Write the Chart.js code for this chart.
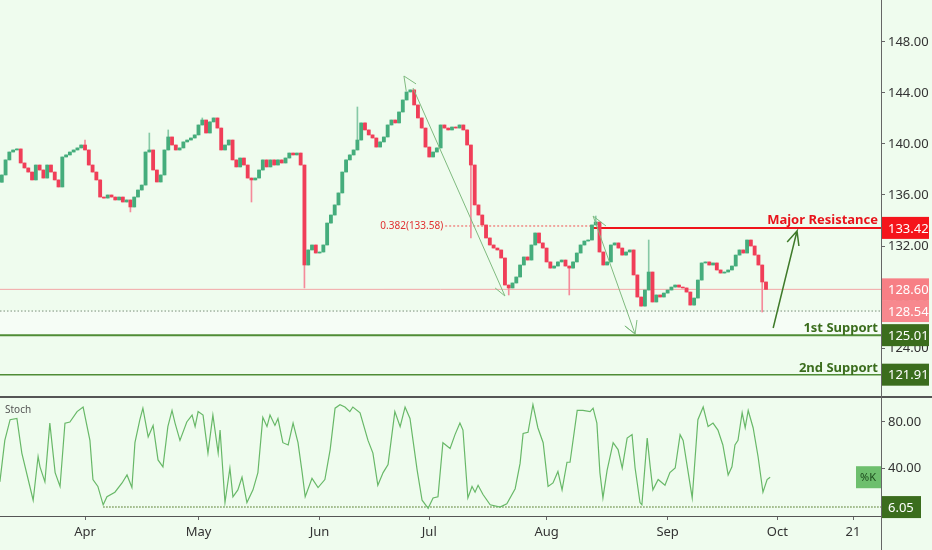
<!DOCTYPE html>
<html>
<head>
<meta charset="utf-8">
<script src="https://cdn.jsdelivr.net/npm/chart.js@4.4.0/dist/chart.umd.min.js"></script>
<style>
  body { margin: 0; background: #effcee; width: 932px; height: 550px; overflow: hidden; position: relative; }
  #main { position: absolute; left: 0; top: 0; }
  #stoch { position: absolute; left: 0; top: 397px; }
  .sep { position: absolute; left: 0; top: 396px; width: 932px; height: 2px; background: #555; }
  .vax { position: absolute; left: 881px; top: 0; width: 1px; height: 550px; background: #666; }
</style>
</head>
<body>
<canvas id="main" width="932" height="397"></canvas>
<canvas id="stoch" width="932" height="153"></canvas>
<div class="sep"></div>
<div class="vax"></div>
<script>
// --- data ---
// x axis is "day number" counted from 1 March (Apr 1 = 31)
const monthTickDays = [31, 61, 93, 122, 153, 185, 214, 234];
const monthTickLabels = ['Apr', 'May', 'Jun', 'Jul', 'Aug', 'Sep', 'Oct', '21'];
const priceTicks = [124, 128, 132, 136, 140, 144, 148];
const stochTicks = [40, 80];

// one candle per day, from day 9 to day 211
const firstDay = 9;
const firstOpen = 137.0;
const closes = [
  137.57, 138.75, 139.37, 139.53, 139.61, 138.51, 138.12, 137.80, 137.18, 138.35,
  137.96, 137.33, 138.35, 137.80, 137.18, 136.63, 138.98, 139.14, 139.37, 139.53,
  139.69, 139.92, 139.53, 138.35, 137.80, 137.18, 135.84, 135.76, 136.00, 135.84,
  135.61, 135.84, 135.45, 135.61, 135.06, 135.84, 136.39, 136.78, 139.37, 139.53,
  137.96, 137.02, 137.57, 139.53, 140.55, 139.92, 139.53, 139.69, 140.16, 140.31,
  140.47, 140.71, 141.49, 141.88, 140.86, 141.73, 142.04, 141.25, 139.53, 139.92,
  140.31, 138.75, 138.20, 138.90, 138.35, 137.33, 137.18, 137.33, 137.96, 138.75,
  138.20, 138.75, 138.35, 138.75, 138.51, 138.90, 139.29, 139.14, 139.29, 138.35,
  130.51, 131.69, 132.08, 131.45, 131.53, 132.08, 133.80, 134.43, 135.22, 136.16,
  137.80, 138.75, 139.14, 139.53, 140.31, 141.65, 141.10, 140.71, 140.47, 139.76,
  140.16, 140.55, 141.49, 141.88, 141.65, 142.51, 143.45, 144.08, 144.24, 143.06,
  142.04, 141.25, 139.76, 138.98, 139.37, 139.69, 141.49, 141.25, 141.10, 141.33,
  141.25, 141.49, 141.10, 139.92, 138.35, 135.22, 134.43, 133.65, 132.63, 132.08,
  131.84, 131.69, 131.06, 128.94, 128.71, 129.10, 129.57, 130.51, 131.14, 130.90,
  132.08, 133.02, 132.24, 131.84, 130.75, 130.27, 130.43, 130.75, 130.90, 130.43,
  130.27, 130.75, 131.45, 132.08, 132.39, 132.47, 133.65, 133.88, 131.53, 130.51,
  130.75, 132.08, 132.24, 131.84, 131.29, 131.53, 131.69, 129.73, 128.00, 127.29,
  128.55, 129.96, 127.61, 128.16, 128.00, 128.31, 128.55, 128.78, 128.94, 128.78,
  128.71, 128.39, 127.37, 127.92, 129.33, 130.67, 130.75, 130.51, 130.67, 130.12,
  129.88, 129.96, 130.12, 130.43, 131.29, 131.69, 131.45, 132.47, 132.00, 131.29,
  130.51, 129.18, 128.60
];
// long wicks that stick out of the bodies
const spikeDays  = [31, 43, 48, 53, 62, 75, 89, 103, 133, 143, 159, 166, 180, 210];
const spikeLows  = [null, 134.67, null, null, null, 135.45, 128.71, null, 132.63, 128.16, 128.16, null, null, 126.82];
const spikeHighs = [140.31, null, 140.86, 141.10, 142.04, null, null, 142.90, null, null, null, 134.35, 132.47, null];

// levels
const majorResistance = 133.42;
const fibLevel = 133.57;
const fibStartDay = 126.2;
const resistStartDay = 165.3;
const lastPrice = 128.60;
const markLevel = 126.90;
const support1 = 125.01;
const support2 = 121.91;

// drawn arrows, [day, price]; null breaks the stroke
const arrowDown1 = [[118.5, 144.71], [115.3, 145.33], [115.9, 144.16], [116.5, null], [117.7, 144.39], [142.0, 128.08], [139.4, 128.71]];
const arrowDown2 = [[168.7, 133.57], [165.3, 134.35], [176.4, 125.10], [173.7, 125.73], [176.4, 125.10], [176.9, 126.20]];
const arrowUp = [[212.9, 125.57], [219.2, 133.18], [216.6, 132.31], [219.2, 133.18], [219.7, 132.00]];

// stochastic %K
const stochDays = [
  8.5, 9.8, 11.2, 13.0, 14.3, 17.3, 18.6, 19.1, 20.4, 21.7,
  23.1, 24.4, 25.7, 27.0, 28.9, 30.5, 32.3, 33.1, 34.4, 35.8,
  36.8, 38.9, 40.8, 42.1, 43.4, 44.2, 45.5, 46.3, 47.7, 49.0,
  50.3, 51.6, 52.9, 54.0, 54.8, 56.1, 57.9, 59.3, 60.1, 60.9,
  62.2, 63.5, 64.8, 66.2, 66.7, 68.0, 69.3, 70.1, 71.4, 72.5,
  73.8, 75.4, 76.7, 78.0, 79.1, 79.9, 81.2, 82.0, 83.3, 84.7,
  86.0, 87.3, 88.4, 89.2, 91.0, 92.6, 94.4, 95.8, 97.1, 98.4,
  99.7, 101.0, 101.8, 103.7, 105.8, 107.1, 108.4, 109.8, 111.1, 112.9,
  114.3, 115.6, 116.9, 118.8, 120.1, 121.7, 123.0, 124.3, 125.6, 127.5,
  128.8, 130.1, 130.9, 132.2, 133.3, 134.1, 134.9, 136.2, 138.1, 140.7,
  142.5, 144.7, 146.0, 146.8, 148.1, 149.4, 150.7, 152.1, 153.4, 154.7,
  156.0, 157.1, 158.4, 159.2, 161.1, 162.6, 164.5, 165.3, 166.3, 167.1,
  167.9, 169.0, 170.6, 171.9, 173.0, 174.3, 175.6, 176.4, 177.7, 178.2,
  179.6, 180.4, 181.1, 182.5, 184.3, 185.6, 187.0, 188.3, 189.1, 191.5,
  193.0, 194.4, 195.7, 197.0, 198.3, 199.6, 201.0, 202.0, 202.8, 203.6,
  204.7, 205.5, 206.3, 207.6, 208.9, 210.2, 211.3, 212.1
];
const stochK = [
  28, 64, 82, 83, 53, 12, 50, 41, 28, 79,
  36, 24, 79, 80, 89, 93, 64, 30, 24, 8,
  15, 19, 27, 34, 23, 62, 82, 92, 67, 77,
  47, 41, 76, 90, 79, 64, 80, 86, 76, 89,
  86, 53, 86, 53, 73, 10, 40, 15, 21, 32,
  10, 21, 36, 84, 76, 86, 77, 83, 62, 60,
  79, 62, 36, 15, 31, 23, 30, 56, 92, 95,
  93, 89, 93, 88, 64, 53, 25, 36, 43, 89,
  76, 93, 83, 38, 12, 5, 14, 15, 62, 57,
  69, 79, 73, 14, 24, 19, 25, 17, 8, 6,
  9, 22, 44, 70, 71, 95, 75, 62, 24, 27,
  37, 21, 45, 45, 90, 90, 89, 92, 79, 36,
  14, 38, 62, 56, 40, 66, 69, 40, 10, 8,
  66, 41, 21, 30, 25, 36, 40, 69, 64, 14,
  82, 93, 76, 79, 73, 60, 34, 41, 60, 64,
  88, 75, 90, 75, 50, 19, 30, 32
];
const stochLow = 6.05;
const stochLowStart = 35.8;
const stochLast = 32;

// --- view ---
const X_MIN = 8.53, X_MAX = 241.4;
const UP = '#45ad7c', DOWN = '#f03e58';
const UP_WICK = '#86c9a6', DOWN_WICK = '#f58a9a';
const GREEN_TAG = '#3b6d1d';
const FONT = "'Noto Sans', sans-serif";

Chart.defaults.font.family = FONT;
Chart.defaults.color = '#333';

const bodies = [], wicks = [], bodyColors = [], wickColors = [];
closes.forEach((c, i) => {
  const day = firstDay + i;
  const o = i === 0 ? firstOpen : closes[i - 1];
  let lo = Math.min(o, c), hi = Math.max(o, c);
  const k = spikeDays.indexOf(day);
  if (k >= 0) {
    if (spikeLows[k] !== null) lo = Math.min(lo, spikeLows[k]);
    if (spikeHighs[k] !== null) hi = Math.max(hi, spikeHighs[k]);
  }
  const up = c >= o;
  bodies.push({ x: day, y: [o, c] });
  wicks.push({ x: day, y: [lo, hi] });
  bodyColors.push(up ? UP : DOWN);
  wickColors.push(up ? UP_WICK : DOWN_WICK);
});

function line(points, color, width, dash, order, extra) {
  return Object.assign({
    type: 'line',
    data: points.map(p => ({ x: p[0], y: p[1] })),
    borderColor: color,
    borderWidth: width,
    borderDash: dash || [],
    pointRadius: 0,
    fill: false,
    tension: 0,
    spanGaps: false,
    order: order
  }, extra || {});
}

function fixAxisWidth(scale) {
  scale.width = 51;
  scale.paddingTop = 0;
  scale.paddingBottom = 0;
}

function tag(ctx, x, yc, w, text, bg, fg, size) {
  ctx.fillStyle = bg;
  ctx.fillRect(x, yc - 11, w, 22);
  ctx.fillStyle = fg;
  ctx.font = (size || 13) + 'px ' + FONT;
  ctx.textAlign = 'left';
  ctx.textBaseline = 'middle';
  ctx.fillText(text, x + 6, yc + 1);
}

const mainLabels = {
  id: 'mainLabels',
  afterDraw(chart) {
    const { ctx, chartArea, scales: { x, y } } = chart;
    ctx.save();
    ctx.textAlign = 'right';
    ctx.textBaseline = 'alphabetic';
    ctx.font = 'bold 13px ' + FONT;
    ctx.fillStyle = '#e8141b';
    ctx.fillText('Major Resistance', chartArea.right - 3, y.getPixelForValue(majorResistance) - 4);
    ctx.fillStyle = '#3b6d1d';
    ctx.fillText('1st Support', chartArea.right - 3, y.getPixelForValue(support1) - 3);
    ctx.fillText('2nd Support', chartArea.right - 3, y.getPixelForValue(support2) - 3);

    ctx.font = '10px ' + FONT;
    ctx.fillStyle = '#e03030';
    ctx.textBaseline = 'middle';
    ctx.fillText('0.382(133.58)', x.getPixelForValue(fibStartDay) - 2, y.getPixelForValue(fibLevel));

    const left = chartArea.right + 1;
    tag(ctx, left, y.getPixelForValue(majorResistance), 47, '133.42', '#f5141b', '#fff');
    tag(ctx, left, y.getPixelForValue(lastPrice), 47, '128.60', '#f77f85', '#fff');
    tag(ctx, left, y.getPixelForValue(markLevel), 47, '128.54', '#f7888e', '#fff');
    tag(ctx, left, y.getPixelForValue(support1), 47, '125.01', GREEN_TAG, '#fff');
    tag(ctx, left, y.getPixelForValue(support2), 47, '121.91', GREEN_TAG, '#fff');
    ctx.restore();
  }
};

new Chart(document.getElementById('main'), {
  type: 'bar',
  data: {
    datasets: [
      line(arrowDown1, '#7fba7f', 1, [], 0),
      line(arrowDown2, '#7fba7f', 1, [], 0),
      line(arrowUp, '#3f7a2a', 1.5, [], 0),
      { type: 'bar', data: bodies, backgroundColor: bodyColors, barThickness: 3.2, grouped: false, order: 1 },
      { type: 'bar', data: wicks, backgroundColor: wickColors, barThickness: 1, grouped: false, order: 2 },
      line([[fibStartDay, fibLevel], [resistStartDay, fibLevel]], '#f05050', 1, [2, 2], 3),
      line([[resistStartDay, majorResistance], [X_MAX, majorResistance]], '#f0141a', 2, [], 3),
      line([[X_MIN, lastPrice], [X_MAX, lastPrice]], '#f3a6a6', 1, [], 3),
      line([[X_MIN, markLevel], [X_MAX, markLevel]], '#7b8f7b', 1, [1.5, 2], 3),
      line([[X_MIN, support1], [X_MAX, support1]], '#4f8c36', 2, [], 3),
      line([[X_MIN, support2], [X_MAX, support2]], '#4f8c36', 1.5, [], 3),
      line([[X_MIN, markLevel], [X_MAX, markLevel]], 'rgba(0,0,0,0)', 0, [], 4,
        { fill: { value: support1 }, backgroundColor: 'rgba(255,255,255,0.45)' })
    ]
  },
  options: {
    responsive: false,
    animation: false,
    layout: { padding: 0 },
    plugins: { legend: { display: false }, tooltip: { enabled: false } },
    scales: {
      x: { type: 'linear', min: X_MIN, max: X_MAX, offset: false, display: false },
      y: {
        type: 'linear', position: 'right', min: 120.16, max: 151.29,
        afterBuildTicks: s => { s.ticks = priceTicks.map(v => ({ value: v })); },
        afterFit: fixAxisWidth,
        grid: { drawOnChartArea: false, tickLength: 4, color: '#666' },
        border: { display: true, color: '#666' },
        ticks: { padding: 3, font: { size: 13 }, color: '#333', callback: v => v.toFixed(2) }
      }
    }
  },
  plugins: [mainLabels]
});

const stochLabels = {
  id: 'stochLabels',
  afterDraw(chart) {
    const { ctx, chartArea, scales: { y } } = chart;
    ctx.save();
    ctx.font = '10px ' + FONT;
    ctx.fillStyle = '#555';
    ctx.textAlign = 'left';
    ctx.textBaseline = 'middle';
    ctx.fillText('Stoch', 5, 13);
    tag(ctx, chartArea.right + 1, y.getPixelForValue(stochLow), 39, '6.05', GREEN_TAG, '#fff');
    const yk = y.getPixelForValue(stochLast);
    ctx.fillStyle = '#6dbf6d';
    ctx.fillRect(chartArea.right - 25, yk - 11, 25, 22);
    ctx.fillStyle = '#1e4d1e';
    ctx.font = '11px ' + FONT;
    ctx.fillText('%K', chartArea.right - 21, yk + 1);
    ctx.restore();
  }
};

new Chart(document.getElementById('stoch'), {
  type: 'line',
  data: {
    datasets: [
      line(stochDays.map((d, i) => [d, stochK[i]]), '#68b868', 1.2, [], 0),
      line([[stochLowStart, stochLow], [X_MAX, stochLow]], '#7a9a5a', 1.5, [1.5, 1.5], 1)
    ]
  },
  options: {
    responsive: false,
    animation: false,
    layout: { padding: 0 },
    plugins: { legend: { display: false }, tooltip: { enabled: false } },
    scales: {
      x: {
        type: 'linear', min: X_MIN, max: X_MAX, offset: false,
        afterBuildTicks: s => { s.ticks = monthTickDays.map(v => ({ value: v })); },
        afterFit: s => { s.height = 34; },
        grid: { drawOnChartArea: false, tickLength: 4, color: '#666' },
        border: { display: true, color: '#555' },
        ticks: {
          padding: 4, font: { size: 13 }, color: '#333', maxRotation: 0, autoSkip: false,
          callback: v => monthTickLabels[monthTickDays.indexOf(v)]
        }
      },
      y: {
        type: 'linear', position: 'right', min: -1.7, max: 101.7,
        afterBuildTicks: s => { s.ticks = stochTicks.map(v => ({ value: v })); },
        afterFit: fixAxisWidth,
        grid: { drawOnChartArea: false, tickLength: 4, color: '#666' },
        border: { display: true, color: '#666' },
        ticks: { padding: 3, font: { size: 13 }, color: '#333', callback: v => v.toFixed(2) }
      }
    }
  },
  plugins: [stochLabels]
});
</script>
</body>
</html>
